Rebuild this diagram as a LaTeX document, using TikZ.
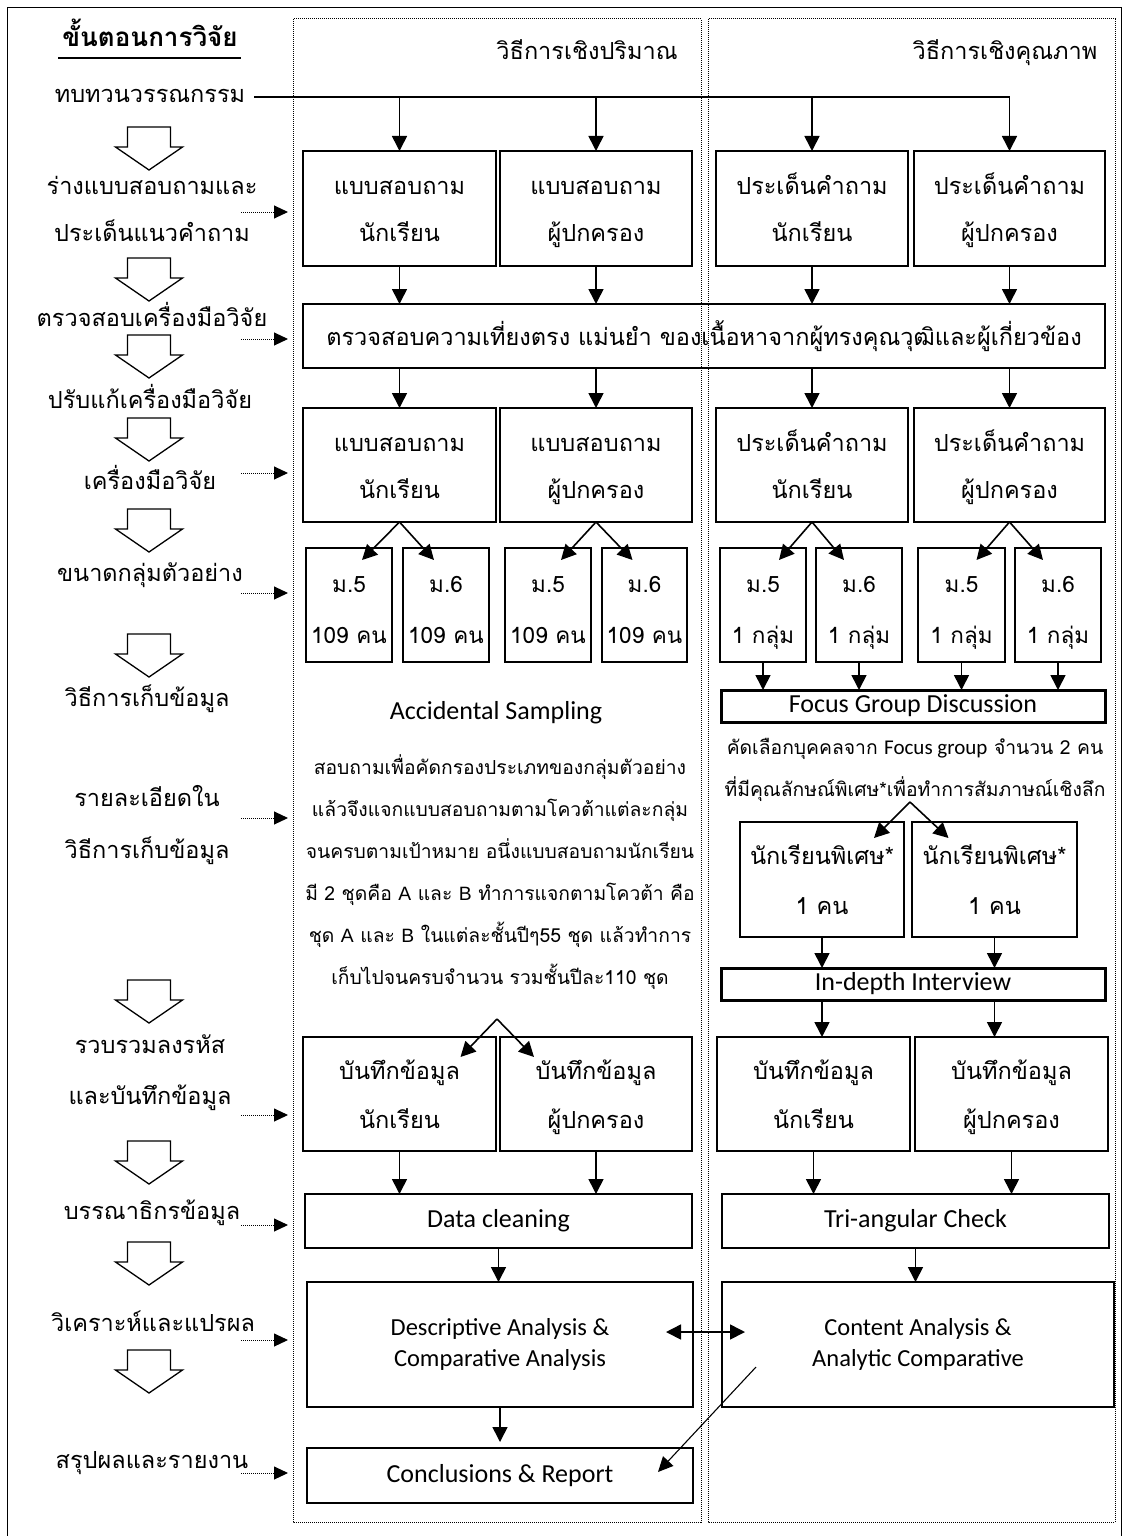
\documentclass[tikz,border=0pt]{standalone}
\usepackage{fontspec}
\usetikzlibrary{arrows.meta,calc}
\newfontfamily\thai[Script=Thai]{Loma}
\newfontfamily\calfont{Carlito}
\newfontfamily\arifont{Liberation Sans}
\newcommand\ts{\rule[-12pt]{0pt}{36pt}}
\newcommand\bs{\rule[-10pt]{0pt}{39pt}}
\newcommand\smst{\rule[-8pt]{0pt}{41pt}}
\newcommand\es{\rule[-4pt]{0pt}{18pt}}
\newcommand\mkbox[7]{\node[bx,#1,minimum width={(#5)-(#3)},minimum height={(#6)-(#4)}] (#2) at ({((#3)+(#5))/2},{((#4)+(#6))/2}) {#7};}
\newcommand\dotarr[2]{\coordinate (#1a) at (241,#2); \coordinate (#1b) at (288,#2); \draw[darr] (#1a) -- (#1b);}
\tikzset{
 bx/.style={draw,line width=1.6pt,inner sep=0pt,outer sep=0pt,align=center,font=\thai\fontsize{23.5}{47}\selectfont},
 lab/.style={inner sep=0pt,align=center,font=\thai\fontsize{23.5}{47}\selectfont},
 arr/.style={line width=1.6pt,-{Triangle[length=15pt,width=15pt]}},
 thinarr/.style={line width=1.1pt,-{Triangle[length=15pt,width=14pt]}},
 darr/.style={line width=1pt,densely dotted,-{Triangle[length=14pt,width=13pt]}},
 col/.style={line width=1pt,densely dotted},
 hollowdown/.pic={\draw[line width=1.3pt,fill=white] (-21.5,0) -- (21.5,0) -- (21.5,20) -- (33.5,20) -- (0,43) -- (-33.5,20) -- (-21.5,20) -- cycle;},
 eng/.style={font=\calfont\fontsize{26}{31}\selectfont},
 small/.style={font=\thai\fontsize{22.5}{51}\selectfont},
}
\begin{document}
\begin{tikzpicture}[x=1pt,y=-1pt]
\useasboundingbox (0,0) rectangle (1123,1536);
% outer frame
\draw[line width=1pt] (7,1545) -- (7,8) -- (1121,8) -- (1121,1545);
% column frames
\draw[col] (293,19) rectangle (701,1522);
\draw[col] (708,19) rectangle (1115,1522);
% headings
\node[lab,font=\thai\bfseries\fontsize{26}{30}\selectfont] (l0) at (150,39) {\ts ขั้นตอนการวิจัย};
\draw[line width=1.3pt] (58,58) -- (241,58);
\node[lab] (h1) at (587,50) {\bs วิธีการเชิงปริมาณ};
\node[lab] (h2) at (1005,50) {\bs วิธีการเชิงคุณภาพ};
% left labels
\node[lab] (l1) at (150,97) {\ts ทบทวนวรรณกรรม};
\node[lab] (l2) at (152,211.5) {\ts ร่างแบบสอบถามและ\\\ts ประเด็นแนวคำถาม};
\node[lab] (l3) at (152,320) {\ts ตรวจสอบเครื่องมือวิจัย};
\node[lab] (l4) at (150,402) {\ts ปรับแก้เครื่องมือวิจัย};
\node[lab] (l5) at (150,483) {\ts เครื่องมือวิจัย};
\node[lab] (l6) at (150,575) {\ts ขนาดกลุ่มตัวอย่าง};
\node[lab] (l7) at (147,700) {\ts วิธีการเก็บข้อมูล};
\node[lab,font=\thai\fontsize{23.5}{52}\selectfont] (l8) at (147,826) {\ts รายละเอียดใน\\\ts วิธีการเก็บข้อมูล};
\node[lab,font=\thai\fontsize{23.5}{51}\selectfont] (l9) at (150,1072.5) {\ts รวบรวมลงรหัส\\\ts และบันทึกข้อมูล};
\node[lab] (l10) at (152,1213) {\ts บรรณาธิกรข้อมูล};
\node[lab] (l11) at (153,1325) {\ts วิเคราะห์และแปรผล};
\node[lab] (l12) at (152,1462) {\ts สรุปผลและรายงาน};
% hollow arrows
\foreach \t in {127,258,335,418,509,634,980,1141,1242,1350}{\pic at (149,\t) {hollowdown};}
% dotted arrows
\dotarr{da1}{212}
\dotarr{da2}{339}
\dotarr{da3}{473}
\dotarr{da4}{593}
\dotarr{da5}{818}
\dotarr{da6}{1115}
\dotarr{da7}{1225}
\dotarr{da8}{1340}
\dotarr{da9}{1473}
% row 1
\mkbox{}{q1}{303}{151}{496}{266}{\bs แบบสอบถาม\\\bs นักเรียน}
\mkbox{}{q2}{500}{151}{692}{266}{\bs แบบสอบถาม\\\bs ผู้ปกครอง}
\mkbox{}{q3}{716}{151}{908}{266}{\bs ประเด็นคำถาม\\\bs นักเรียน}
\mkbox{}{q4}{914}{151}{1105}{266}{\bs ประเด็นคำถาม\\\bs ผู้ปกครอง}
\mkbox{}{chk}{303}{304}{1105}{368}{\bs ตรวจสอบความเที่ยงตรง แม่นยำ ของเนื้อหาจากผู้ทรงคุณวุฒิและผู้เกี่ยวข้อง}
% row 3
\mkbox{}{r1}{303}{408}{496}{522}{\bs แบบสอบถาม\\\bs นักเรียน}
\mkbox{}{r2}{500}{408}{692}{522}{\bs แบบสอบถาม\\\bs ผู้ปกครอง}
\mkbox{}{r3}{716}{408}{908}{522}{\bs ประเด็นคำถาม\\\bs นักเรียน}
\mkbox{}{r4}{914}{408}{1105}{522}{\bs ประเด็นคำถาม\\\bs ผู้ปกครอง}
% small boxes
\mkbox{small}{s1}{306}{548}{392}{662}{\smst ม.5\\\smst 109 คน}
\mkbox{small}{s2}{403}{548}{489}{662}{\smst ม.6\\\smst 109 คน}
\mkbox{small}{s3}{505}{548}{591}{662}{\smst ม.5\\\smst 109 คน}
\mkbox{small}{s4}{602}{548}{687}{662}{\smst ม.6\\\smst 109 คน}
\mkbox{small}{s5}{720}{548}{806}{662}{\smst ม.5\\\smst 1 กลุ่ม}
\mkbox{small}{s6}{816}{548}{902}{662}{\smst ม.6\\\smst 1 กลุ่ม}
\mkbox{small}{s7}{918}{548}{1005}{662}{\smst ม.5\\\smst 1 กลุ่ม}
\mkbox{small}{s8}{1015}{548}{1101}{662}{\smst ม.6\\\smst 1 กลุ่ม}
% quantitative details
\node[eng] (acc) at (496,713) {\es Accidental Sampling};
\node[lab,font=\thai\fontsize{19.3}{42}\selectfont] (par) at (500,873) {\ts สอบถามเพื่อคัดกรองประเภทของกลุ่มตัวอย่าง\\\ts แล้วจึงแจกแบบสอบถามตามโควต้าแต่ละกลุ่ม\\\ts จนครบตามเป้าหมาย อนึ่งแบบสอบถามนักเรียน\\\ts มี 2 ชุดคือ {\arifont A} และ {\arifont B} ทำการแจกตามโควต้า คือ\\\ts ชุด {\arifont A} และ {\arifont B} ในแต่ละชั้นปีๆ55 ชุด แล้วทำการ\\\ts เก็บไปจนครบจำนวน รวมชั้นปีละ110 ชุด};
% qualitative details
\mkbox{line width=3pt,eng}{fgd}{721}{690}{1105}{722}{\es Focus Group Discussion}
\node[lab,font=\thai\fontsize{19.3}{42}\selectfont] (par2) at (915,769) {\ts คัดเลือกบุคคลจาก {\calfont\fontsize{21}{42}\selectfont Focus group} จำนวน 2 คน\\\ts ที่มีคุณลักษณ์พิเศษ*เพื่อทำการสัมภาษณ์เชิงลึก};
\mkbox{font=\thai\fontsize{23.5}{50}\selectfont}{p1}{740}{822}{904}{937}{\bs นักเรียนพิเศษ*\\\bs 1 คน}
\mkbox{font=\thai\fontsize{23.5}{50}\selectfont}{p2}{912}{822}{1077}{937}{\bs นักเรียนพิเศษ*\\\bs 1 คน}
\mkbox{line width=3pt,eng}{ind}{721}{968}{1105}{1000}{\es In-depth Interview}
% records
\mkbox{font=\thai\fontsize{23.5}{49}\selectfont}{d1}{303}{1037}{496}{1151}{\bs บันทึกข้อมูล\\\bs นักเรียน}
\mkbox{font=\thai\fontsize{23.5}{49}\selectfont}{d2}{500}{1037}{692}{1151}{\bs บันทึกข้อมูล\\\bs ผู้ปกครอง}
\mkbox{font=\thai\fontsize{23.5}{49}\selectfont}{d3}{717}{1037}{910}{1151}{\bs บันทึกข้อมูล\\\bs นักเรียน}
\mkbox{font=\thai\fontsize{23.5}{49}\selectfont}{d4}{915}{1037}{1108}{1151}{\bs บันทึกข้อมูล\\\bs ผู้ปกครอง}
\mkbox{eng}{dc}{305}{1194}{692}{1248}{\es Data cleaning}
\mkbox{eng}{tc}{722}{1194}{1109}{1248}{\es Tri-angular Check}
\mkbox{font=\calfont\fontsize{24.5}{31}\selectfont}{da}{307}{1282}{693}{1407}{\es Descriptive Analysis \&\\\es Comparative Analysis}
\mkbox{font=\calfont\fontsize{24.5}{31}\selectfont}{ca}{722}{1282}{1114}{1407}{\es Content Analysis \&\\\es Analytic Comparative}
\mkbox{font=\calfont\fontsize{26}{31}\selectfont}{cr}{307}{1448}{693}{1503}{\es Conclusions \& Report}
% connectors
\draw[line width=1.6pt] ([xshift=9pt]l1.east) -- (q4.north |- l1.east);
\foreach \b in {q1,q2,q3,q4}{\draw[arr] (\b.north |- l1.east) -- (\b.north);}
\foreach \b in {q1,q2,q3,q4}{\draw[arr] (\b.south) -- (\b.south |- chk.north);}
\foreach \b in {r1,r2,r3,r4}{\draw[arr] (chk.south -| \b.north) -- (\b.north);}
\draw[arr] (r1.south) -- ([xshift=13pt,yshift=-12pt]s1.north);
\draw[arr] (r1.south) -- ([xshift=-12pt,yshift=-12pt]s2.north);
\draw[arr] (r2.south) -- ([xshift=13pt,yshift=-12pt]s3.north);
\draw[arr] (r2.south) -- ([xshift=-12pt,yshift=-12pt]s4.north);
\draw[arr] (r3.south) -- ([xshift=16pt,yshift=-12pt]s5.north);
\draw[arr] (r3.south) -- ([xshift=-15pt,yshift=-12pt]s6.north);
\draw[arr] (r4.south) -- ([xshift=15pt,yshift=-12pt]s7.north);
\draw[arr] (r4.south) -- ([xshift=-15pt,yshift=-12pt]s8.north);
\foreach \b in {s5,s6,s7,s8}{\draw[arr] (\b.south) -- (\b.south |- fgd.north);}
\coordinate (fk2) at (910,802);
\draw[arr] (fk2) -- ([xshift=52pt,yshift=-16pt]p1.north);
\draw[arr] (fk2) -- ([xshift=-46pt,yshift=-16pt]p2.north);
\foreach \b in {p1,p2}{\draw[arr] (\b.south) -- (\b.south |- ind.north);}
\draw[arr] (ind.south -| p1.south) -- (d3.north -| p1.south);
\draw[arr] (ind.south -| p2.south) -- (d4.north -| p2.south);
\coordinate (fk1) at (497,1019);
\draw[arr] (fk1) -- ([xshift=61pt,yshift=-20pt]d1.north);
\draw[arr] (fk1) -- ([xshift=-62pt,yshift=-20pt]d2.north);
\draw[arr] (d1.south) -- (d1.south |- dc.north);
\draw[arr] (d2.south) -- (d2.south |- dc.north);
\draw[arr] (d3.south) -- (d3.south |- tc.north);
\draw[arr] (d4.south) -- (d4.south |- tc.north);
\draw[arr] (dc.south) -- (dc.south |- da.north);
\draw[arr] (tc.south) -- (tc.south |- ca.north);
\draw[line width=1.6pt,{Triangle[length=15pt,width=15pt]}-{Triangle[length=15pt,width=15pt]}] ([xshift=-27pt,yshift=12.5pt]da.east) -- ([xshift=23pt,yshift=12.5pt]ca.west);
\draw[arr,shorten >=6pt] (da.south) -- (cr.north);
\draw[thinarr] ([xshift=34pt,yshift=-22.5pt]ca.west) -- ([xshift=-35pt,yshift=3.5pt]cr.east);
\end{tikzpicture}
\end{document}
